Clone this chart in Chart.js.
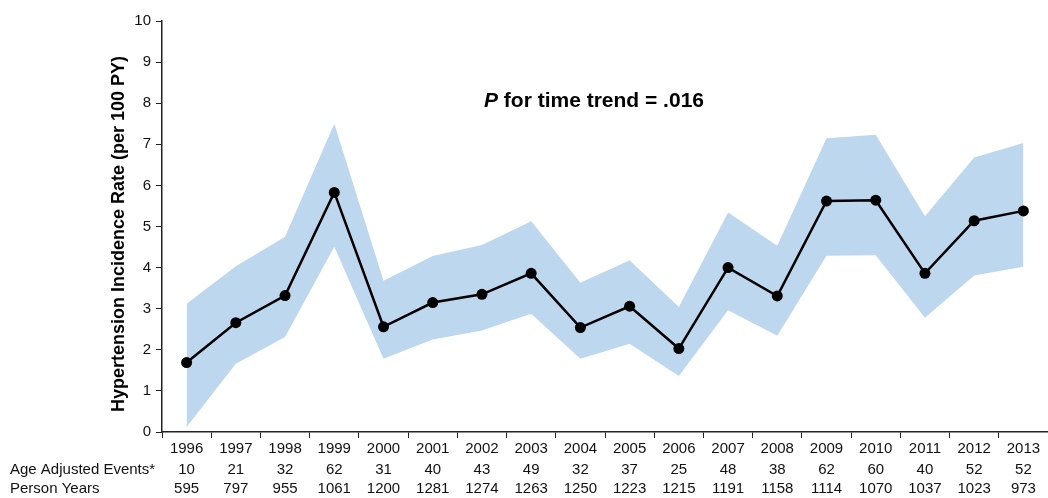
<!DOCTYPE html>
<html>
<head>
<meta charset="utf-8">
<script src="https://cdn.jsdelivr.net/npm/chart.js@4.4.1/dist/chart.umd.min.js"></script>
<style>
html,body{margin:0;padding:0;background:#fff;}
#wrap{width:1048px;height:498px;position:relative;}
</style>
</head>
<body>
<div id="wrap"><canvas id="c" width="1048" height="498"></canvas></div>
<script>
const years = ['1996','1997','1998','1999','2000','2001','2002','2003','2004','2005','2006','2007','2008','2009','2010','2011','2012','2013'];
const rate  = [1.69,2.66,3.32,5.83,2.56,3.15,3.35,3.86,2.54,3.06,2.03,4.00,3.31,5.62,5.64,3.86,5.14,5.38];
const upper = [3.12,4.03,4.75,7.50,3.68,4.28,4.55,5.13,3.63,4.18,3.04,5.34,4.53,7.15,7.23,5.25,6.68,7.03];
const lower = [0.12,1.66,2.31,4.51,1.78,2.25,2.47,2.88,1.78,2.15,1.36,2.96,2.34,4.29,4.30,2.78,3.81,4.02];
const events = ['10','21','32','62','31','40','43','49','32','37','25','48','38','62','60','40','52','52'];
const personYears = ['595','797','955','1061','1200','1281','1274','1263','1250','1223','1215','1191','1158','1114','1070','1037','1023','973'];
const rowLabels = ['Age Adjusted Events*','Person Years'];
const yTitle = 'Hypertension Incidence Rate (per 100 PY)';

const FONT = "'Liberation Sans', Arial, sans-serif";

const textPlugin = {
  id: 'textPlugin',
  afterDraw(chart) {
    const ctx = chart.ctx;
    const xs = chart.scales.x;
    ctx.save();
    ctx.fillStyle = '#111';
    ctx.font = '15px ' + FONT;
    ctx.textBaseline = 'middle';
    ctx.textAlign = 'center';
    for (let i = 0; i < years.length; i++) {
      const px = xs.getPixelForTick(i);
      ctx.fillText(events[i], px, 470);
      ctx.fillText(personYears[i], px, 489);
    }
    ctx.textAlign = 'left';
    ctx.fillText(rowLabels[0], 10, 470);
    ctx.fillText(rowLabels[1], 10, 489);
    // y axis title
    ctx.save();
    ctx.fillStyle = '#000';
    ctx.font = 'bold 18px ' + FONT;
    ctx.translate(119, 234);
    ctx.rotate(-Math.PI / 2);
    ctx.textAlign = 'center';
    ctx.textBaseline = 'middle';
    ctx.fillText(yTitle, 0, 0);
    ctx.restore();
    // annotation
    ctx.fillStyle = '#000';
    const fs = 21;
    ctx.font = 'italic bold ' + fs + 'px ' + FONT;
    const pW = ctx.measureText('P').width;
    ctx.font = 'bold ' + fs + 'px ' + FONT;
    const rest = ' for time trend = .016';
    const rW = ctx.measureText(rest).width;
    const cx = 594;
    const startX = cx - (pW + rW) / 2;
    ctx.font = 'italic bold ' + fs + 'px ' + FONT;
    ctx.fillText('P', startX, 101);
    ctx.font = 'bold ' + fs + 'px ' + FONT;
    ctx.fillText(rest, startX + pW, 101);
    ctx.restore();
  }
};

new Chart(document.getElementById('c'), {
  type: 'line',
  data: {
    labels: years,
    datasets: [
      { label: 'lower', data: lower, borderWidth: 0, pointRadius: 0, fill: false, borderColor: 'rgba(0,0,0,0)', order: 3 },
      { label: 'upper', data: upper, borderWidth: 0, pointRadius: 0, fill: '-1', backgroundColor: '#bdd7ee', borderColor: 'rgba(0,0,0,0)', order: 2 },
      { label: 'rate', data: rate, borderColor: '#000', borderWidth: 2.5, pointRadius: 5.5, pointBackgroundColor: '#000', pointBorderColor: '#000', pointBorderWidth: 0, fill: false, order: 1 }
    ]
  },
  options: {
    responsive: false,
    animation: false,
    layout: { autoPadding: false, padding: { top: 21, right: 0, left: 100, bottom: 0 } },
    plugins: { legend: { display: false }, tooltip: { enabled: false } },
    scales: {
      x: {
        offset: true,
        grid: { display: true, offset: true, drawOnChartArea: false, drawTicks: true, tickLength: 6, color: '#222' },
        border: { display: true, color: '#222', width: 1.5 },
        ticks: { color: '#111', font: { family: FONT, size: 15 }, padding: 2, maxRotation: 0, autoSkip: false },
        afterFit(s) { s.height = 66; s.paddingLeft = 0; s.paddingRight = 0; }
      },
      y: {
        min: 0, max: 10,
        grid: { display: true, drawOnChartArea: false, drawTicks: true, tickLength: 6, color: '#222' },
        border: { display: true, color: '#222', width: 1.5 },
        ticks: { stepSize: 1, color: '#111', font: { family: FONT, size: 15 }, padding: 5 },
        title: { display: false },
        afterFit(s) { s.width = 62; s.paddingTop = 0; s.paddingBottom = 0; }
      }
    }
  },
  plugins: [textPlugin]
});
</script>
</body>
</html>
